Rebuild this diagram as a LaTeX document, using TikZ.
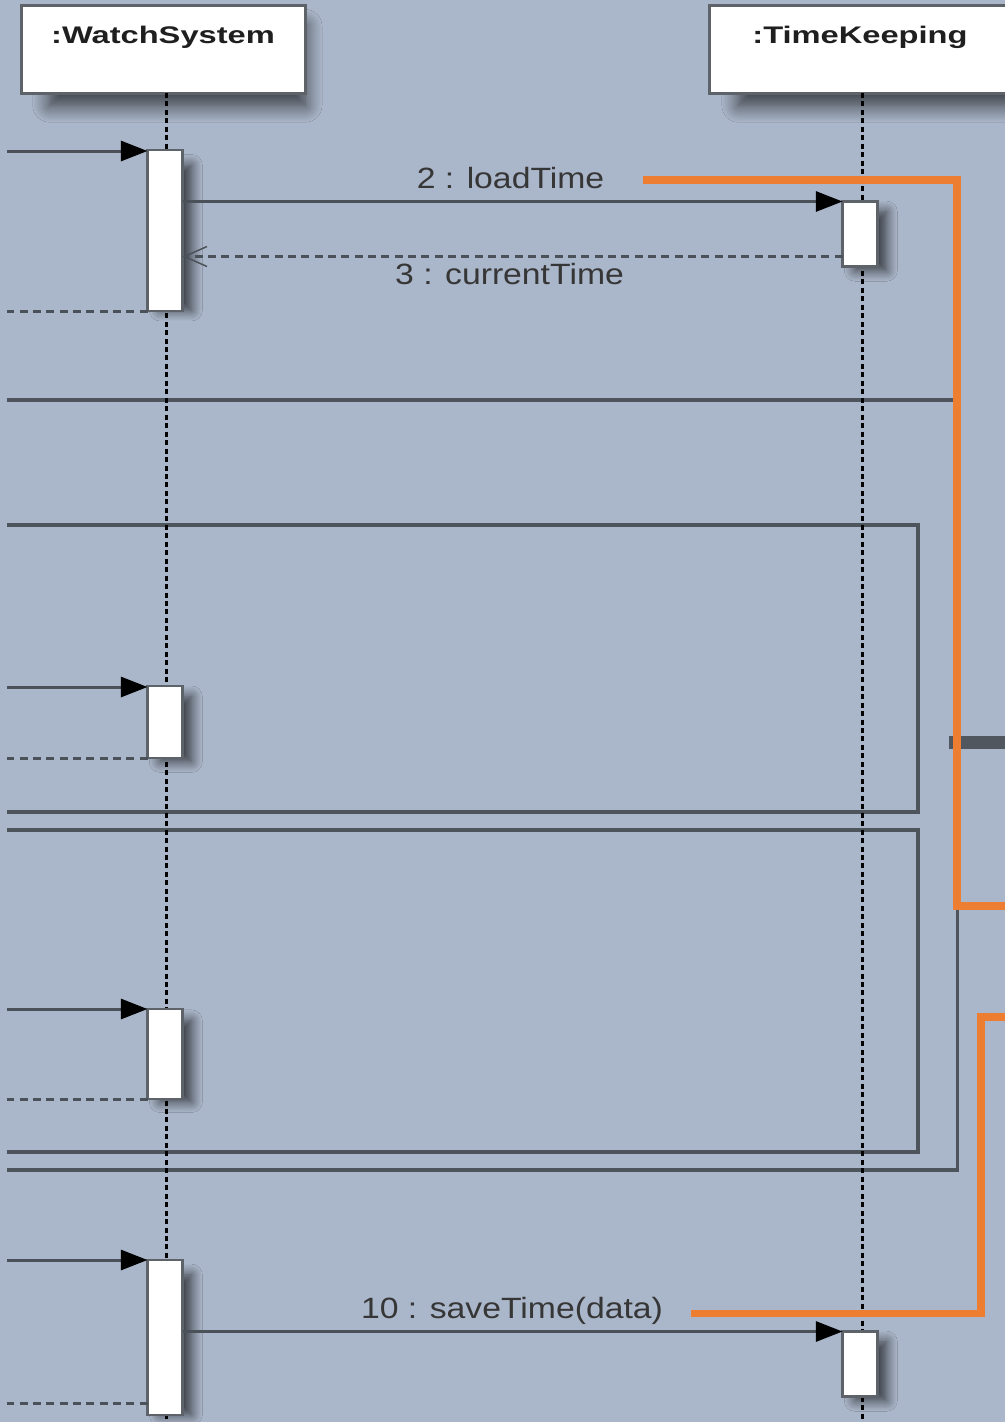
\documentclass[tikz,border=0pt]{standalone}
\usepackage{fontspec}
\setmainfont{Liberation Sans}
\usetikzlibrary{arrows.meta,shadows.blur}
\definecolor{bg}{HTML}{AAB6C9}
\definecolor{ln}{HTML}{4B5158}
\definecolor{frm}{HTML}{4E545B}
\definecolor{bx}{HTML}{5E636A}
\definecolor{org}{HTML}{ED7D31}
\definecolor{txt}{HTML}{363636}
\definecolor{seg}{HTML}{51575E}
\newcommand{\mywide}[2]{\scalebox{#1}[1]{#2}}
\begin{document}
\begin{tikzpicture}[x=0.75pt,y=-0.75pt,
  objbox/.style={draw=bx, line width=2.25pt, fill=white, inner sep=0pt, outer sep=0pt,
    blur shadow={shadow xshift=12pt, shadow yshift=-14pt, shadow scale=0.9, shadow blur radius=14pt, shadow opacity=70, shadow blur steps=16}},
  actbox/.style={draw=bx, line width=1.9pt, fill=white, inner sep=0pt, outer sep=0pt, minimum width={35*0.75pt},
    blur shadow={shadow xshift=9pt, shadow yshift=-6pt, shadow scale=0.9, shadow blur radius=9pt, shadow opacity=70, shadow blur steps=12}},
  lifeline/.style={draw=black, line width=1.6pt, dash pattern=on 3.75pt off 2.6pt},
  frame/.style={draw=frm, line width=2.3pt},
  msg/.style={draw=ln, line width=2.25pt, -{Triangle[length=20pt,width=15pt,color=black]}},
  ret/.style={draw=ln, line width=2.25pt, dash pattern=on 6pt off 4pt},
  retarrow/.style={ret, -{Straight Barb[length=17pt,width=15pt,line width=1.1pt,color=ln]}},
  orangeline/.style={draw=org, line width=5.3pt},
  titletext/.style={font=\fontsize{18}{22}\selectfont\bfseries, text=black!88, inner sep=0pt},
  msglabel/.style={font=\fontsize{22}{26}\selectfont, text=txt, inner sep=0pt}]

\useasboundingbox (0,0) rectangle (1005,1422);
\fill[bg] (0,0) rectangle (1005,1422);

% combined fragments
\draw[frame] (7,400) -- (957.5,400) -- (957.5,1170) -- (7,1170);
\draw[frame] (7,525) -- (918,525) -- (918,812) -- (7,812);
\draw[frame] (7,830) -- (918,830) -- (918,1152) -- (7,1152);

% objects
\node[objbox, minimum width={284*0.75pt}, minimum height={88*0.75pt}] (ws) at (163,49) {};
\node[objbox, minimum width={306*0.75pt}, minimum height={88*0.75pt}] (tk) at (862,49) {};
\node[titletext, anchor=base] (wst) at (163,43) {\mywide{1.36}{:WatchSystem}};
\node[titletext, anchor=base] (tkt) at (860,43) {\mywide{1.36}{:TimeKeeping}};

% lifelines
\coordinate (wsend) at (166.5,1422);
\coordinate (tkend) at (862.5,1422);
\draw[lifeline] (ws.south -| wsend) -- (wsend);
\draw[lifeline] (tk.south -| tkend) -- (tkend);

% activations
\node[actbox, minimum height={161*0.75pt}] (act1) at (165,230.5) {};
\node[actbox, minimum height={72*0.75pt}] (act2) at (165,722) {};
\node[actbox, minimum height={90*0.75pt}] (act3) at (165,1054) {};
\node[actbox, minimum height={155*0.75pt}] (act4) at (165,1337.5) {};
\node[actbox, minimum height={65*0.75pt}] (tk1) at (860,234) {};
\node[actbox, minimum height={65*0.75pt}] (tk2) at (860,1364) {};

% free ends
\coordinate (in1) at (7,151);
\coordinate (in2) at (7,687);
\coordinate (in3) at (7,1009);
\coordinate (in4) at (7,1260);
\coordinate (r3y) at (0,256.5);
\coordinate (r4) at (7,1403);

% messages
\draw[msg] (in1) -- (in1 -| act1.west);
\draw[msg] (tk1.north west -| act1.east) -- (tk1.north west);
\draw[retarrow] (tk1.west |- r3y) -- (act1.east |- r3y);
\draw[ret] (act1.south west) -- (act1.south west -| in1);

\draw[msg] (in2) -- (in2 -| act2.west);
\draw[ret] (act2.south west) -- (act2.south west -| in2);

\draw[msg] (in3) -- (in3 -| act3.west);
\draw[ret] (act3.south west) -- (act3.south west -| in3);

\draw[msg] (in4) -- (in4 -| act4.west);
\draw[ret] (act4.west |- r4) -- (r4);
\draw[msg] (tk2.north west -| act4.east) -- (tk2.north west);

% labels
\node[msglabel, anchor=base] (l2) at (510.5,188) {\mywide{1.15}{2 : loadTime}};
\node[msglabel, anchor=base] (l3) at (509.5,284.5) {\mywide{1.15}{3 : currentTime}};
\node[msglabel, anchor=base] (l10) at (512,1318) {\mywide{1.15}{10 : saveTime(data)}};

% dark tab segment
\draw[seg, line width=9.75pt] (949,742) -- (1012,742);

% orange annotation lines
\draw[orangeline] (643,180) -- (957,180) -- (957,906) -- (1012,906);
\draw[orangeline] (691,1313.5) -- (981,1313.5) -- (981,1017) -- (1012,1017);
\end{tikzpicture}
\end{document}
